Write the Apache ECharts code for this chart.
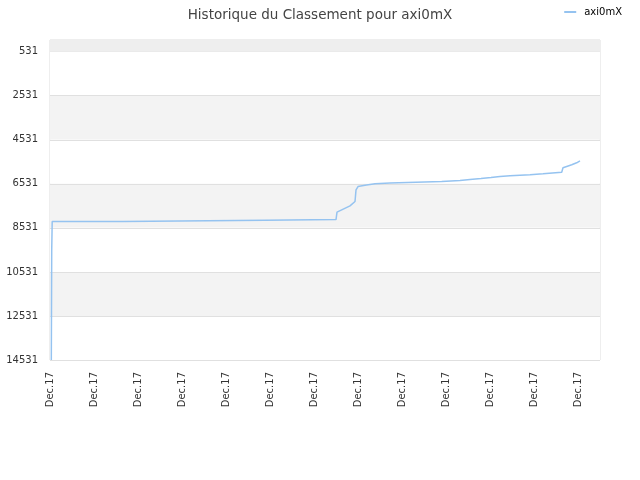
<!DOCTYPE html>
<html>
<head>
<meta charset="utf-8">
<script src="https://cdn.jsdelivr.net/npm/echarts@6/dist/echarts.min.js"></script>
<style>html,body{margin:0;padding:0;background:#fff}#c{width:640px;height:480px}</style>
</head>
<body>
<div id="c"></div>
<script>
var title = 'Historique du Classement pour axi0mX';
var seriesName = 'axi0mX';
var xTickLabels = ['Dec.17','Dec.17','Dec.17','Dec.17','Dec.17','Dec.17','Dec.17','Dec.17','Dec.17','Dec.17','Dec.17','Dec.17','Dec.17'];
var yTickValues = [531, 2531, 4531, 6531, 8531, 10531, 12531, 14531];
var topBand = [0, 531];
var timePos = [0.03,0.039,0.05,1.652,1.659,4.886,4.893,6.5,6.523,6.818,6.932,6.955,7.0,7.159,7.386,7.727,7.734,8.318,8.325,8.902,8.909,9.318,9.325,9.545,9.552,9.795,9.802,10.023,10.03,10.227,10.234,10.455,10.461,10.909,10.916,11.205,11.211,11.63,11.659,11.743,11.857,11.97,12.045];
var ranks = [14531,9531,8245,8245,8181,8181,8154,8154,7817,7531,7336,6804,6654,6599,6531,6499,6454,6454,6426,6426,6381,6381,6335,6335,6290,6290,6244,6244,6199,6199,6167,6167,6122,6122,6076,6076,6008,6008,5804,5744,5667,5576,5486];

var data = timePos.map(function (t, i) { return [t, ranks[i]]; });
var chart = echarts.init(document.getElementById('c'));
chart.setOption({
  animation: false,
  textStyle: { fontFamily: 'DejaVu Sans' },
  title: {
    text: title, left: 'center', top: 3,
    textStyle: { fontSize: 13.5, fontWeight: 'normal', color: '#444', fontFamily: 'DejaVu Sans' }
  },
  legend: {
    right: 18, top: 7, padding: 0, itemWidth: 12, itemHeight: 2, itemGap: 6,
    icon: 'rect',
    textStyle: { fontSize: 10, color: '#000', fontFamily: 'DejaVu Sans', padding: [0, 0, 0, 3] },
    data: [seriesName]
  },
  grid: { left: 50, right: 40, top: 40, bottom: 120, outerBoundsMode: 'none', containLabel: false, show: true, borderColor: '#dddddd', borderWidth: 1, backgroundColor: 'transparent' },
  xAxis: {
    type: 'value', min: 0, max: 12.5, interval: 1,
    axisLine: { show: false }, axisTick: { show: false }, splitLine: { show: false },
    axisLabel: {
      rotate: 90, fontSize: 10, color: '#333', margin: 12, showMaxLabel: false,
      formatter: function (v) { var i = Math.round(v); return (Math.abs(v - i) < 1e-6 && xTickLabels[i]) ? xTickLabels[i] : ''; }
    }
  },
  yAxis: {
    type: 'value', inverse: true, min: 0, max: 14531,
    axisLine: { show: false },
    axisTick: { show: false, customValues: yTickValues },
    axisLabel: { fontSize: 10, color: '#333', margin: 12, customValues: yTickValues, formatter: function (v) { return String(v); } },
    splitLine: { show: true, lineStyle: { color: '#e0e0e0', width: 1 } },
    splitArea: { show: true, areaStyle: { color: ['#ffffff', '#f3f3f3'] } }
  },
  series: [{
    name: seriesName, type: 'line', data: data, showSymbol: false, symbol: 'none',
    lineStyle: { color: '#95c3f0', width: 1.5 }, itemStyle: { color: '#95c3f0' },
    markArea: {
      silent: true, itemStyle: { color: '#eeeeee' },
      data: [[{ yAxis: topBand[0] }, { yAxis: topBand[1] }]]
    }
  }]
});
</script>
</body>
</html>
